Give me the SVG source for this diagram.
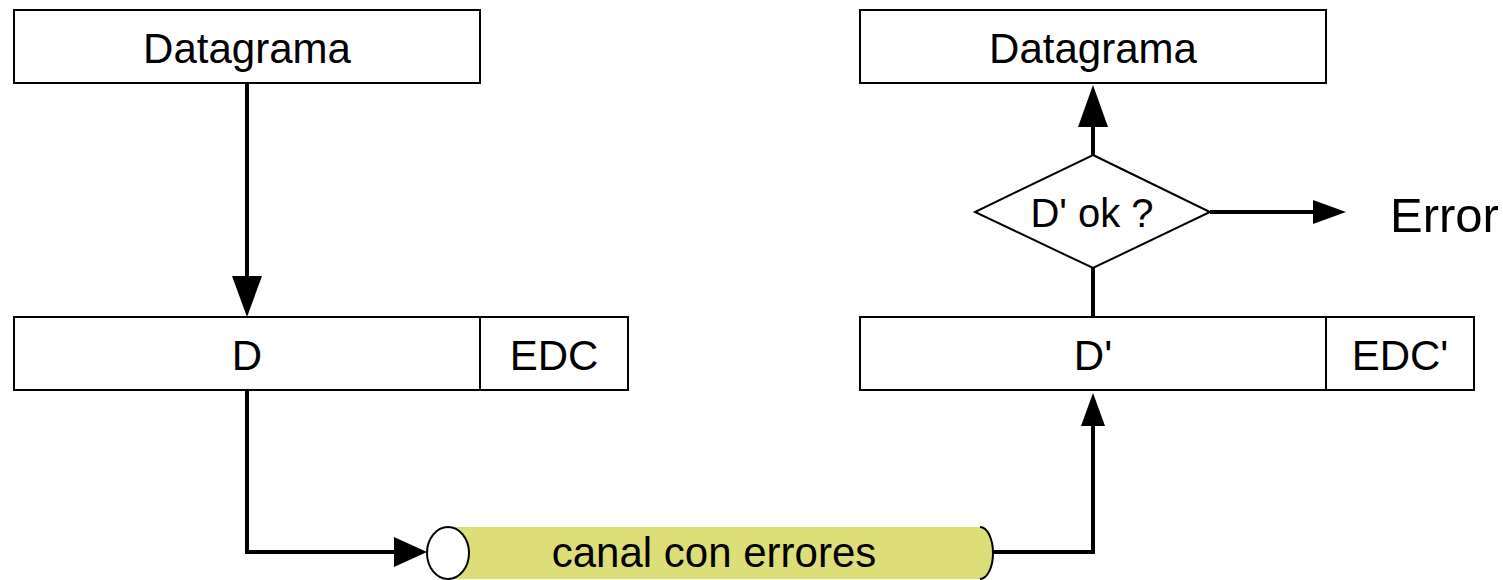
<svg xmlns="http://www.w3.org/2000/svg" width="1503" height="580" viewBox="0 0 1503 580">
<defs>
<style>
.box{fill:#fff;stroke:#000;stroke-width:2}
.t{font-family:"Liberation Sans",Arial,sans-serif;font-size:42px;fill:#000;text-anchor:middle}
.c{fill:none;stroke:#000;stroke-width:4;stroke-linejoin:miter}
.ah{fill:#000;stroke:none}
</style>
</defs>
<rect width="1503" height="580" fill="#fff"/>
<g id="connectors">
<path class="c" d="M247 83 V276"/>
<polygon class="ah" points="232,276 262,276 247,317"/>
<path class="c" d="M247 390 V552 H394"/>
<polygon class="ah" points="394,537 394,567 427,552"/>
<path class="c" d="M993 552 H1093 V426"/>
<polygon class="ah" points="1081,426 1105,426 1093,393"/>
<path class="c" d="M1093 317 V268"/>
<path class="c" d="M1093 155 V127"/>
<polygon class="ah" points="1078,127 1108,127 1093,85"/>
<path class="c" d="M1210 212 H1313"/>
<polygon class="ah" points="1313,200 1313,224 1346,212"/>
</g>
<g id="datagrama-left">
<rect class="box" x="14" y="10" width="466" height="73"/>
<text class="t" x="247" y="63">Datagrama</text>
</g>
<g id="frame-left">
<rect class="box" x="14" y="317" width="614" height="73"/>
<line x1="480" y1="317" x2="480" y2="390" stroke="#000" stroke-width="2"/>
<text class="t" x="247" y="370">D</text>
<text class="t" x="554" y="370">EDC</text>
</g>
<g id="channel">
<path d="M448 527 H980 A14 26 0 0 1 980 579 H448 Z" fill="#DEDE78"/>
<path d="M980 527 A13 26 0 0 1 980 579" fill="none" stroke="#000" stroke-width="2"/>
<ellipse cx="448" cy="553" rx="21" ry="26" fill="#fff" stroke="#000" stroke-width="2"/>
<text class="t" x="714" y="567">canal con errores</text>
</g>
<g id="datagrama-right">
<rect class="box" x="860" y="10" width="466" height="73"/>
<text class="t" x="1093" y="63">Datagrama</text>
</g>
<g id="decision">
<polygon class="box" points="1093,155 1210,212 1093,268 975,212"/>
<text class="t" x="1092" y="227" style="font-size:40px">D' ok ?</text>
</g>
<g id="frame-right">
<rect class="box" x="860" y="317" width="614" height="73"/>
<line x1="1326" y1="317" x2="1326" y2="390" stroke="#000" stroke-width="2"/>
<text class="t" x="1093" y="370">D'</text>
<text class="t" x="1400" y="370">EDC'</text>
</g>
<g id="error">
<text class="t" x="1390" y="232" style="font-size:49px;text-anchor:start">Error</text>
</g>
</svg>
